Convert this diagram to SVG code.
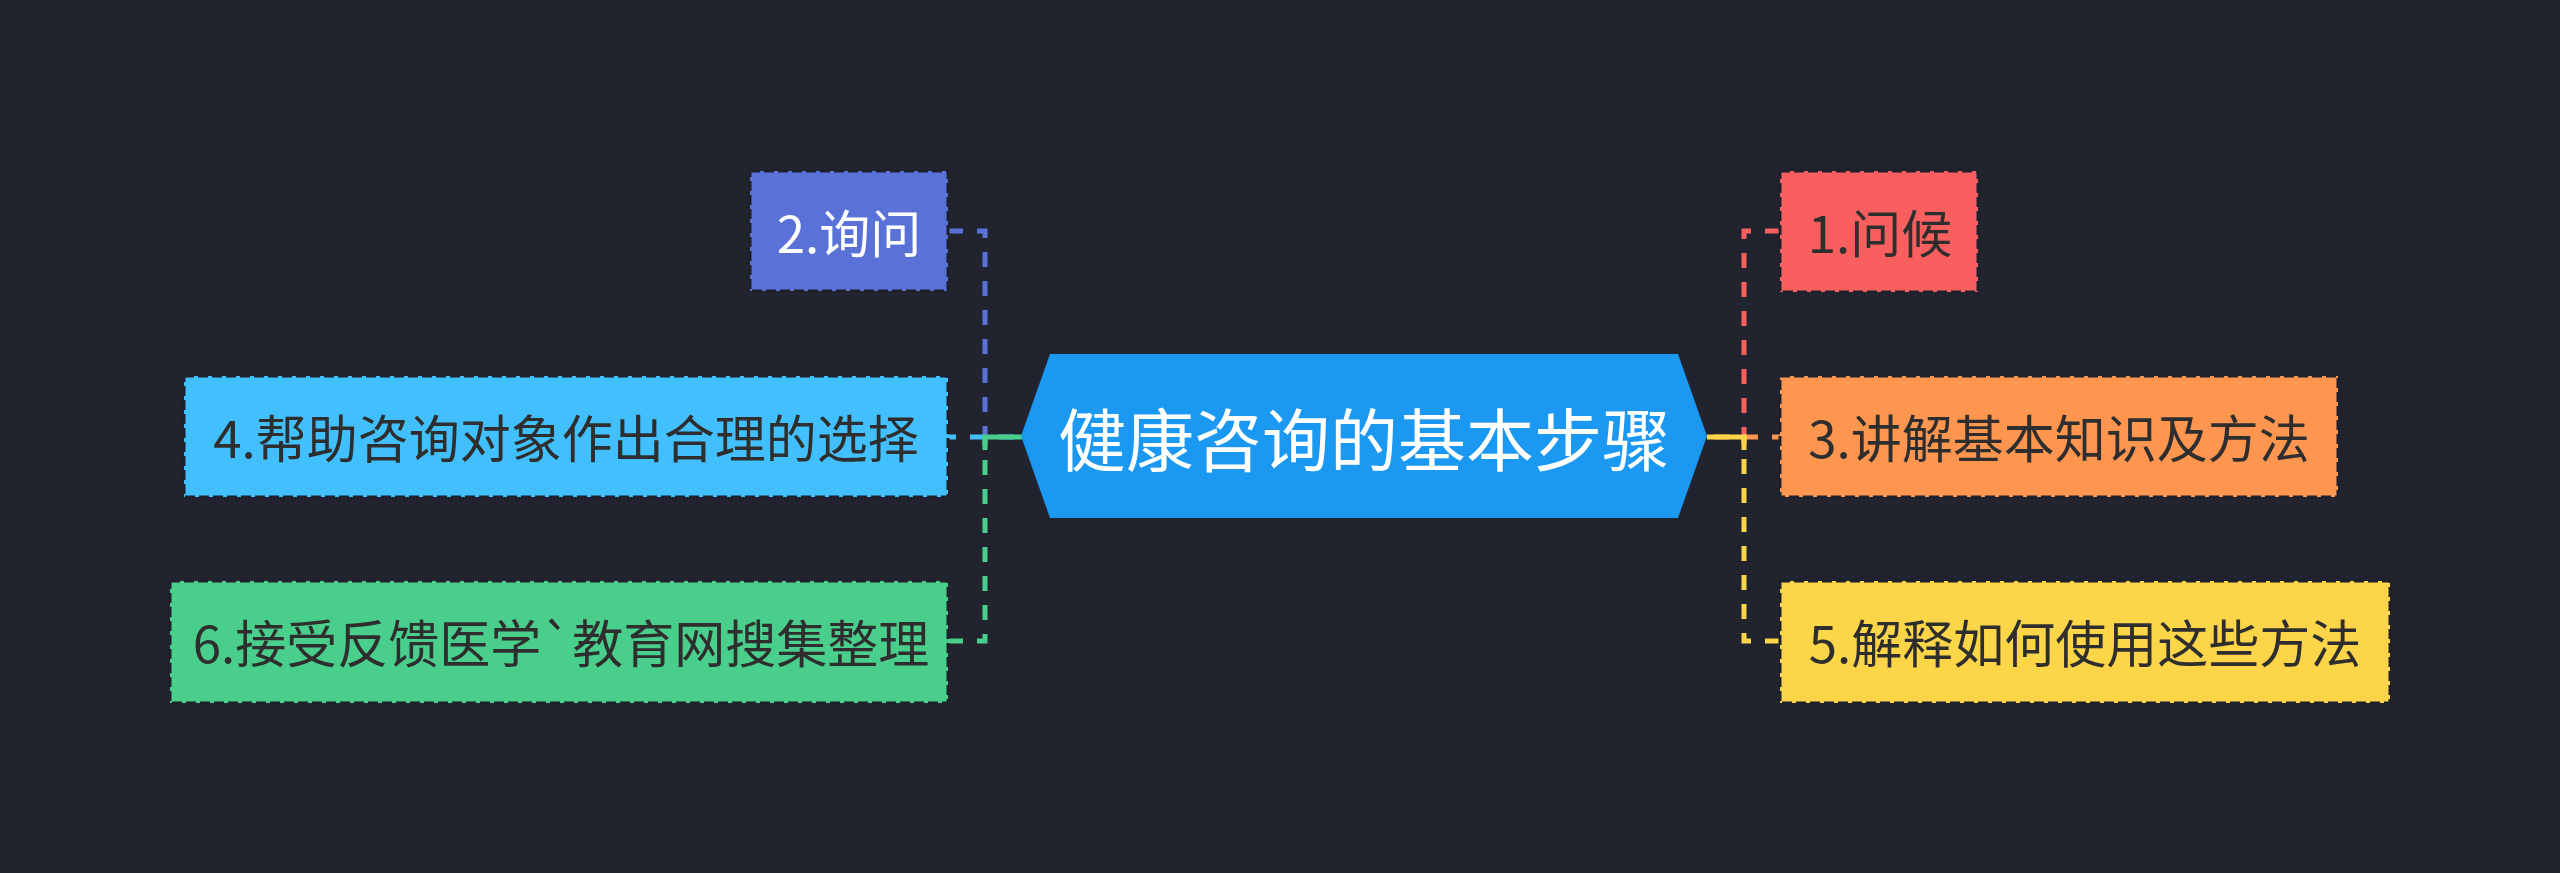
<svg xmlns="http://www.w3.org/2000/svg" width="2560" height="873" viewBox="0 0 2560 873">
<style>
.bg{fill:#21242f}
.box{stroke:#1e212b;stroke-width:3;stroke-dasharray:10 4}
.t{font-family:"Noto Sans CJK SC","Noto Sans",sans-serif;font-size:51px;text-anchor:middle;dominant-baseline:central;fill:#2e2e2e}
.tw{fill:#ffffff}
.ct{font-family:"Noto Sans CJK SC","Noto Sans",sans-serif;font-size:68px;text-anchor:middle;dominant-baseline:central;fill:#ffffff}
.c{fill:none;stroke-width:5;stroke-dasharray:15 14}
.stub{fill:none;stroke-width:5}
</style>
<rect class="bg" x="0" y="0" width="2560" height="873"/>
<g id="connectors">
<path class="c" stroke="#5a72d8" d="M948 231 H985 V437"/>
<path class="c" stroke="#42c0fd" d="M941 437 H1022"/>
<path class="c" stroke="#4ace8c" d="M948 641 H985 V437"/>
<path class="stub" stroke="#4ace8c" d="M1022 437 H985 V450"/>
<path class="c" stroke="#f95f5f" d="M1780 231 H1744 V437"/>
<path class="c" stroke="#fe9650" d="M1787 437 H1707"/>
<path class="c" stroke="#fdd548" d="M1780 641 H1744 V437"/>
<path class="stub" stroke="#fdd548" d="M1707 437 H1744 V450"/>
</g>
<g id="center">
<polygon fill="#1a98f2" points="1021,436 1050,354 1678,354 1707,436 1678,518 1050,518"/>
<text class="ct" x="1364" y="436">健康咨询的基本步骤</text>
</g>
<g id="node2">
<rect class="box" fill="#5a72d8" x="750" y="171" width="198" height="120"/>
<text class="t tw" x="849" y="231">2.询问</text>
</g>
<g id="node4">
<rect class="box" fill="#42c0fd" x="184" y="376" width="764" height="121"/>
<text class="t" x="566" y="436">4.帮助咨询对象作出合理的选择</text>
</g>
<g id="node6">
<rect class="box" fill="#4ace8c" x="170" y="581" width="778" height="122"/>
<text class="t" x="561" y="641">6.接受反馈医学`教育网搜集整理</text>
</g>
<g id="node1">
<rect class="box" fill="#f95f5f" x="1780" y="171" width="198" height="121"/>
<text class="t" x="1880" y="231">1.问候</text>
</g>
<g id="node3">
<rect class="box" fill="#fe9650" x="1780" y="376" width="558" height="121"/>
<text class="t" x="2059" y="436">3.讲解基本知识及方法</text>
</g>
<g id="node5">
<rect class="box" fill="#fdd548" x="1780" y="581" width="610" height="122"/>
<text class="t" x="2085" y="641">5.解释如何使用这些方法</text>
</g>
</svg>
